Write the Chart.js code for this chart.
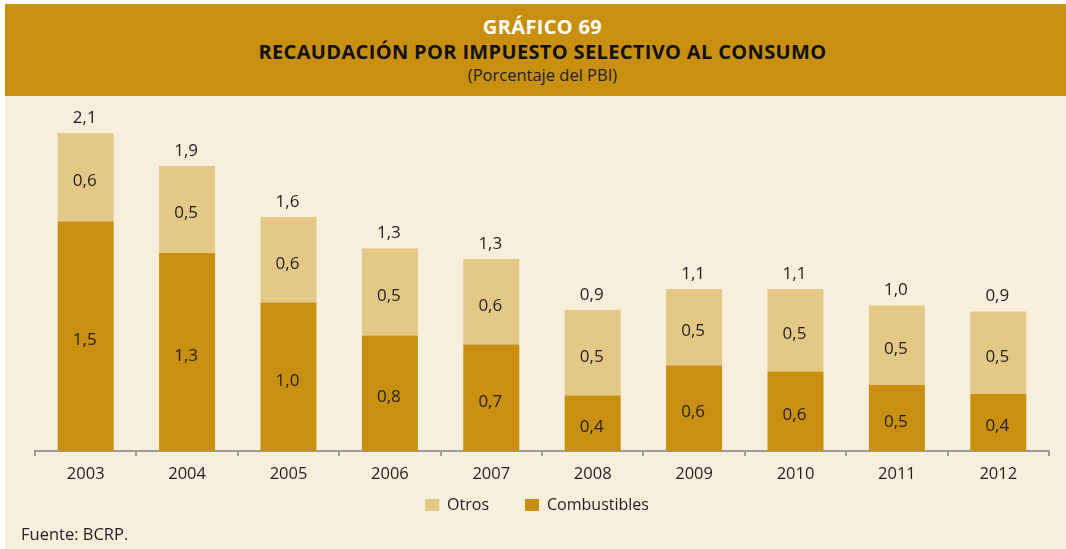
<!DOCTYPE html>
<html lang="es">
<head>
<meta charset="utf-8">
<title>Gráfico 69</title>
<script src="https://cdn.jsdelivr.net/npm/chart.js@4.4.1/dist/chart.umd.min.js"></script>
<style>
  html, body { margin: 0; padding: 0; background: #fff; }
  #wrap { position: relative; width: 1066px; height: 549px; overflow: hidden; font-family: "Open Sans", sans-serif; }
  #head { position: absolute; left: 5px; top: 4px; width: 1061px; height: 92px; background: #C8900E; }
  #head div { position: absolute; left: 14px; right: 0; text-align: center; white-space: nowrap; }
  #t1 { top: 9px; font-size: 20px; font-weight: bold; color: #fff; letter-spacing: 0.35px; }
  #t2 { top: 34px; font-size: 20px; font-weight: bold; color: #111; letter-spacing: 0.35px; }
  #t3 { top: 59px; font-size: 16.5px; color: #222; }
  #body { position: absolute; left: 5px; top: 96px; width: 1061px; height: 453px; background: #F7EEDC; }
  #paint { position: absolute; left: 5px; top: 96px; }
  #fuente { position: absolute; left: 21px; top: 522px; font-size: 16.5px; color: #231f20; }
</style>
</head>
<body>
<div id="wrap">
  <div id="head">
    <div id="t1">GRÁFICO 69</div>
    <div id="t2">RECAUDACIÓN POR IMPUESTO SELECTIVO AL CONSUMO</div>
    <div id="t3">(Porcentaje del PBI)</div>
  </div>
  <div id="body"></div>
  <canvas id="paint" width="1061" height="453"></canvas>
  <div id="fuente">Fuente: BCRP.</div>
</div>
<script>
// Datos (porcentaje del PBI)
var years = ['2003', '2004', '2005', '2006', '2007', '2008', '2009', '2010', '2011', '2012'];
var combustibles = [1.53, 1.32, 0.99, 0.77, 0.71, 0.37, 0.57, 0.53, 0.44, 0.38];
var otros = [0.59, 0.58, 0.57, 0.58, 0.57, 0.57, 0.51, 0.55, 0.53, 0.55];

// Etiquetas publicadas
var combLabels = ['1,5', '1,3', '1,0', '0,8', '0,7', '0,4', '0,6', '0,6', '0,5', '0,4'];
var otrosLabels = ['0,6', '0,5', '0,6', '0,5', '0,6', '0,5', '0,5', '0,5', '0,5', '0,5'];
var totalLabels = ['2,1', '1,9', '1,6', '1,3', '1,3', '0,9', '1,1', '1,1', '1,0', '0,9'];

var gold = '#C8900E';
var light = '#E4C886';
var ink = '#231f20';

var barLabels = {
	id: 'barLabels',
	afterLayout: function (chart) {
		// acercar la leyenda al eje
		var lg = chart.legend;
		var shift = lg.top - (chart.chartArea.bottom + 10);
		lg.top -= shift;
		lg.bottom -= shift;
		lg.left -= 5;
		lg.right -= 5;
	},
	afterDatasetsDraw: function (chart) {
		var ctx = chart.ctx;
		var texts = [combLabels, otrosLabels];
		ctx.save();
		ctx.font = '17px "Open Sans"';
		ctx.fillStyle = ink;
		ctx.textAlign = 'center';
		ctx.textBaseline = 'middle';
		chart.data.datasets.forEach(function (ds, i) {
			chart.getDatasetMeta(i).data.forEach(function (bar, j) {
				ctx.fillText(texts[i][j], bar.x - 1, (bar.y + bar.base) / 2 + 4);
			});
		});
		chart.getDatasetMeta(1).data.forEach(function (bar, j) {
			ctx.fillText(totalLabels[j], bar.x - 1, bar.y - 15);
		});
		ctx.restore();
	}
};

var el = document.getElementById('paint');
new Chart(el, {
	type: 'bar',
	data: {
		labels: years,
		datasets: [{
			label: 'Combustibles',
			data: combustibles,
			backgroundColor: gold
		}, {
			label: 'Otros',
			data: otros,
			backgroundColor: light
		}]
	},
	options: {
		responsive: false,
		animation: false,
		layout: { padding: { left: 30, right: 17, top: 10, bottom: 0 } },
		datasets: { bar: { categoryPercentage: 1, barPercentage: 0.552 } },
		scales: {
			x: {
				stacked: true,
				afterFit: function (scale) { scale.height = 36; },
				border: { display: true, color: '#9b9b9b', width: 2 },
				grid: { display: true, drawOnChartArea: false, drawTicks: true, tickLength: 5, color: '#9b9b9b', lineWidth: 2 },
				ticks: { color: ink, padding: 8, font: { family: 'Open Sans', size: 16.5 } }
			},
			y: { stacked: true, display: false, min: 0, max: 2.3 }
		},
		plugins: {
			legend: {
				position: 'bottom',
				reverse: true,
				labels: {
					boxWidth: 14,
					boxHeight: 12,
					padding: 36,
					color: ink,
					font: { family: 'Open Sans', size: 16 }
				}
			},
			tooltip: { enabled: false }
		}
	},
	plugins: [barLabels]
});
</script>
</body>
</html>
